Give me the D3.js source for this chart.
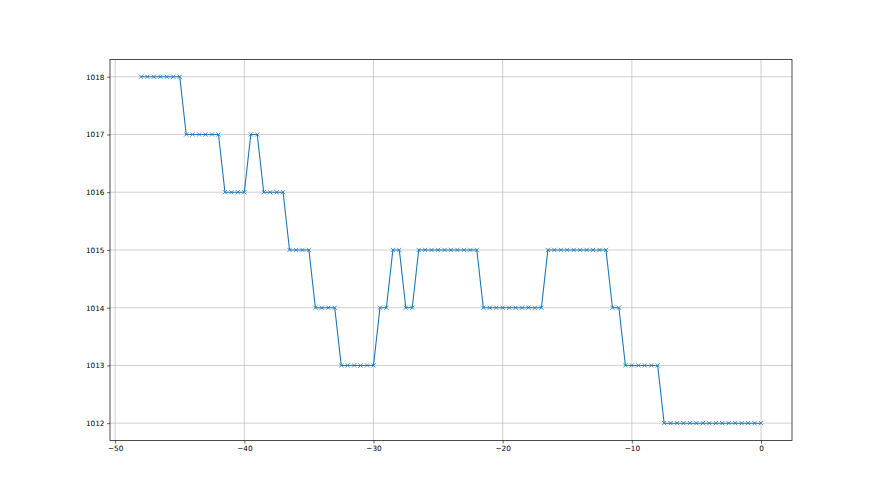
<!DOCTYPE html>
<html><head><meta charset="utf-8">
<script src="https://cdn.jsdelivr.net/npm/d3@7"></script>
<style>body{margin:0;background:#fff}svg{display:block}text{font-family:"DejaVu Sans",sans-serif}</style>
</head><body><svg id="c" width="880" height="495"></svg>
<script>
// Data: time offsets (hours) and pressure readings
const pressure = [1018,1018,1018,1018,1018,1018,1018,
  1017,1017,1017,1017,1017,1017,
  1016,1016,1016,1016,
  1017,1017,
  1016,1016,1016,1016,
  1015,1015,1015,1015,
  1014,1014,1014,1014,
  1013,1013,1013,1013,1013,1013,
  1014,1014,
  1015,1015,
  1014,1014,
  1015,1015,1015,1015,1015,1015,1015,1015,1015,1015,
  1014,1014,1014,1014,1014,1014,1014,1014,1014,1014,
  1015,1015,1015,1015,1015,1015,1015,1015,1015,1015,
  1014,1014,
  1013,1013,1013,1013,1013,1013,
  1012,1012,1012,1012,1012,1012,1012,1012,1012,1012,1012,1012,1012,1012,1012,1012];
const hours = [-48,-47.5,-47,-46.5,-46,-45.5,-45,-44.5,-44,-43.5,-43,-42.5,-42,-41.5,-41,-40.5,-40,
  -39.5,-39,-38.5,-38,-37.5,-37,-36.5,-36,-35.5,-35,-34.5,-34,-33.5,-33,-32.5,-32,-31.5,-31,-30.5,-30,
  -29.5,-29,-28.5,-28,-27.5,-27,-26.5,-26,-25.5,-25,-24.5,-24,-23.5,-23,-22.5,-22,-21.5,-21,-20.5,-20,
  -19.5,-19,-18.5,-18,-17.5,-17,-16.5,-16,-15.5,-15,-14.5,-14,-13.5,-13,-12.5,-12,-11.5,-11,-10.5,-10,
  -9.5,-9,-8.5,-8,-7.5,-7,-6.5,-6,-5.5,-5,-4.5,-4,-3.5,-3,-2.5,-2,-1.5,-1,-0.5,0];
const xTicks = [-50,-40,-30,-20,-10,0];
const yTicks = [1012,1013,1014,1015,1016,1017,1018];

const data = hours.map((h,i)=>({x:h,y:pressure[i]}));
const svg = d3.select("#c");
const L=110,R=792,T=59.4,B=440.5;
const x = d3.scaleLinear().domain([-50.4,2.4]).range([L,R]);
const y = d3.scaleLinear().domain([1011.7,1018.3]).range([B,T]);
const grid = svg.append("g").attr("stroke","#b0b0b0").attr("stroke-width",0.6);
xTicks.forEach(t=>grid.append("line").attr("x1",x(t)).attr("x2",x(t)).attr("y1",T).attr("y2",B));
yTicks.forEach(t=>grid.append("line").attr("x1",L).attr("x2",R).attr("y1",y(t)).attr("y2",y(t)));

const line = d3.line().x(d=>x(d.x)).y(d=>y(d.y));
svg.append("path").datum(data).attr("d",line).attr("fill","none").attr("stroke","#1f77b4").attr("stroke-width",1.1);
const s=2.1;
svg.append("g").selectAll("path").data(data).join("path")
  .attr("d",d=>{const cx=x(d.x),cy=y(d.y);return `M${cx-s},${cy-s}L${cx+s},${cy+s}M${cx-s},${cy+s}L${cx+s},${cy-s}`;})
  .attr("stroke","#1f77b4").attr("stroke-width",0.8).attr("fill","none");

const xa = svg.append("g").attr("transform",`translate(0,${B})`)
  .call(d3.axisBottom(x).tickValues(xTicks).tickSize(3).tickPadding(2.5).tickFormat(d=>d<0?"\u2212"+Math.abs(d):d));
const ya = svg.append("g").attr("transform",`translate(${L},0)`)
  .call(d3.axisLeft(y).tickValues(yTicks).tickSize(3).tickPadding(2.5).tickFormat(d3.format("d")));
[xa,ya].forEach(a=>{a.select(".domain").remove();a.selectAll("line").attr("stroke","#000").attr("stroke-width",0.6);
  a.selectAll("text").attr("font-size","7.3px").attr("fill","#000").attr("font-family","DejaVu Sans");});
svg.append("rect").attr("x",L).attr("y",T).attr("width",R-L).attr("height",B-T)
  .attr("fill","none").attr("stroke","#000").attr("stroke-width",0.7);
</script></body></html>
